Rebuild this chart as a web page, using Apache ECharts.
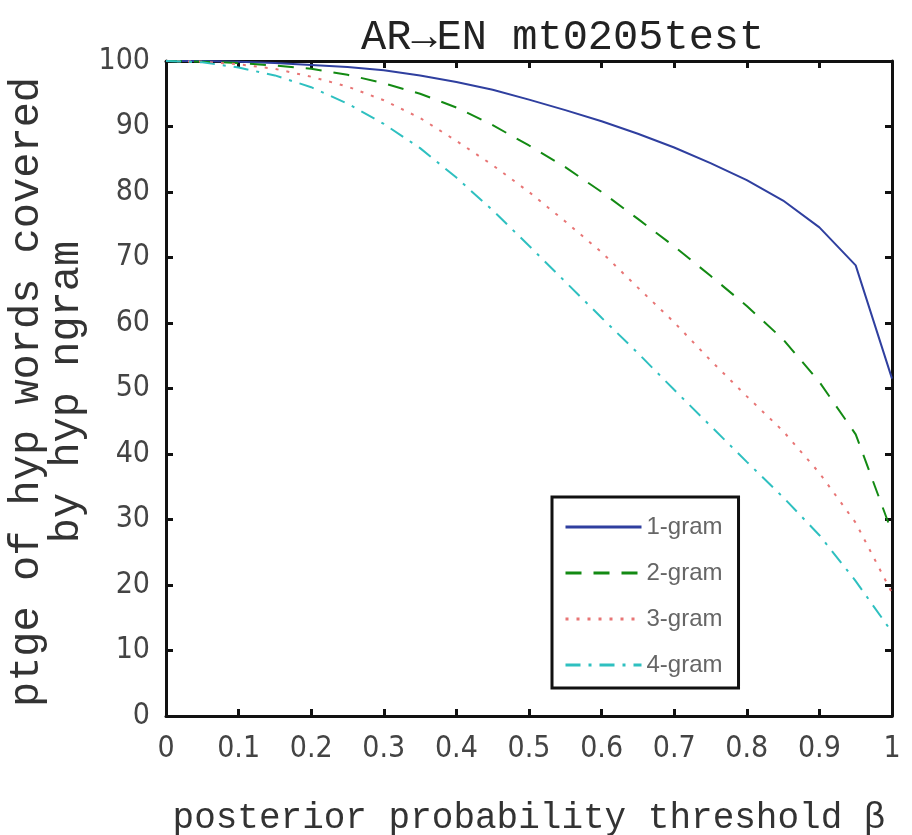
<!DOCTYPE html>
<html>
<head>
<meta charset="utf-8">
<script src="https://cdn.jsdelivr.net/npm/echarts@6/dist/echarts.min.js"></script>
<style>html,body{margin:0;padding:0;background:#fff;}#c{width:912px;height:835px;}</style>
</head>
<body>
<div id="c"></div>
<script>
var beta = [0, 0.05, 0.1, 0.15, 0.2, 0.25, 0.3, 0.35, 0.4, 0.45, 0.5, 0.55, 0.6, 0.65, 0.7, 0.75, 0.8, 0.85, 0.9, 0.95, 1];
var gram1 = [100, 100, 99.9, 99.7, 99.4, 99.1, 98.6, 97.8, 96.8, 95.6, 94.1, 92.5, 90.8, 88.9, 86.8, 84.4, 81.8, 78.7, 74.6, 68.8, 51.5];
var gram2 = [100, 99.9, 99.7, 99.3, 98.8, 97.9, 96.6, 95.0, 92.9, 90.2, 87.1, 83.8, 80.0, 75.9, 71.7, 67.2, 62.6, 57.5, 51.0, 43.0, 28.0];
var gram3 = [100, 99.9, 99.5, 98.8, 97.6, 96.1, 94.0, 91.3, 87.8, 84.1, 80.0, 75.5, 70.8, 65.4, 60.1, 54.3, 48.8, 43.5, 37.1, 29.5, 18.8];
var gram4 = [100, 99.8, 99.0, 97.8, 96.0, 93.5, 90.4, 86.7, 82.2, 77.2, 71.8, 66.3, 60.8, 55.4, 49.8, 44.3, 38.8, 33.4, 27.6, 20.6, 12.8];
var seriesNames = ['1-gram', '2-gram', '3-gram', '4-gram'];
var titleText = 'AR\u2192EN mt0205test';
var xName = 'posterior probability threshold \u03b2';
var yName = 'ptge of hyp words covered\nby hyp ngram';

function pairs(ys) { return beta.map(function (b, i) { return [b, ys[i]]; }); }

var mono = '"Liberation Mono", "DejaVu Sans Mono", monospace';
var narrow = '"Liberation Sans Narrow", "DejaVu Sans Condensed", "Liberation Sans", sans-serif';
var frame = { show: true, onZero: false, lineStyle: { color: '#111', width: 3 } };
var tick = { show: true, inside: true, length: 7, lineStyle: { color: '#111', width: 3 } };

var chart = echarts.init(document.getElementById('c'), null, { renderer: 'canvas' });
chart.setOption({
  animation: false,
  backgroundColor: '#fff',
  title: {
    text: titleText, left: 356, top: 12,
    textStyle: { fontFamily: mono, fontSize: 42, fontWeight: 'normal', color: '#222' }
  },
  legend: {
    orient: 'vertical', left: 552, top: 497,
    data: seriesNames,
    itemWidth: 76, itemHeight: 24, itemGap: 22,
    padding: [18, 16, 11, 12],
    borderColor: '#111', borderWidth: 3, backgroundColor: '#fff',
    lineStyle: { width: 3 },
    itemStyle: { color: 'rgba(0,0,0,0)', borderWidth: 0, opacity: 0 },
    textStyle: { fontFamily: '"Liberation Sans", Arial, sans-serif', fontSize: 24, color: '#666', lineHeight: 24 }
  },
  grid: { left: 166, right: 20, top: 61, bottom: 119, containLabel: false, outerBoundsMode: 'none' },
  xAxis: [{
    type: 'value', min: 0, max: 1, interval: 0.1, position: 'bottom',
    name: xName, nameLocation: 'middle', nameGap: 84,
    nameTextStyle: { fontFamily: mono, fontSize: 36, color: '#333', lineHeight: 36 },
    axisLine: frame, axisTick: tick, splitLine: { show: false },
    axisLabel: { margin: 18, fontFamily: narrow, fontSize: 30, color: '#444' }
  }, {
    type: 'value', min: 0, max: 1, interval: 0.1, position: 'top',
    axisLine: frame, axisTick: tick, splitLine: { show: false }, axisLabel: { show: false }
  }],
  yAxis: [{
    type: 'value', min: 0, max: 100, interval: 10, position: 'left',
    name: yName, nameLocation: 'middle', nameGap: 68, nameRotate: 90,
    nameTextStyle: { fontFamily: mono, fontSize: 42, color: '#333', lineHeight: 40, padding: [0, 7, 0, 0] },
    axisLine: frame, axisTick: tick, splitLine: { show: false },
    axisLabel: { margin: 16, fontFamily: narrow, fontSize: 30, color: '#444', padding: [0, 0, 12, 0] }
  }, {
    type: 'value', min: 0, max: 100, interval: 10, position: 'right',
    axisLine: frame, axisTick: tick, splitLine: { show: false }, axisLabel: { show: false }
  }],
  series: [
    { name: seriesNames[0], type: 'line', data: pairs(gram1), symbol: 'none', showSymbol: false,
      lineStyle: { color: '#2f3f9f', width: 2, type: 'solid' }, itemStyle: { color: '#2f3f9f' } },
    { name: seriesNames[1], type: 'line', data: pairs(gram2), symbol: 'none', showSymbol: false,
      lineStyle: { color: '#138a13', width: 2, type: [16, 12] }, itemStyle: { color: '#138a13' } },
    { name: seriesNames[2], type: 'line', data: pairs(gram3), symbol: 'none', showSymbol: false,
      lineStyle: { color: '#e87575', width: 2, type: [3, 8] }, itemStyle: { color: '#e87575' } },
    { name: seriesNames[3], type: 'line', data: pairs(gram4), symbol: 'none', showSymbol: false,
      lineStyle: { color: '#2ec0c0', width: 2, type: [15, 8, 3, 8] }, itemStyle: { color: '#2ec0c0' } }
  ]
});
</script>
</body>
</html>
